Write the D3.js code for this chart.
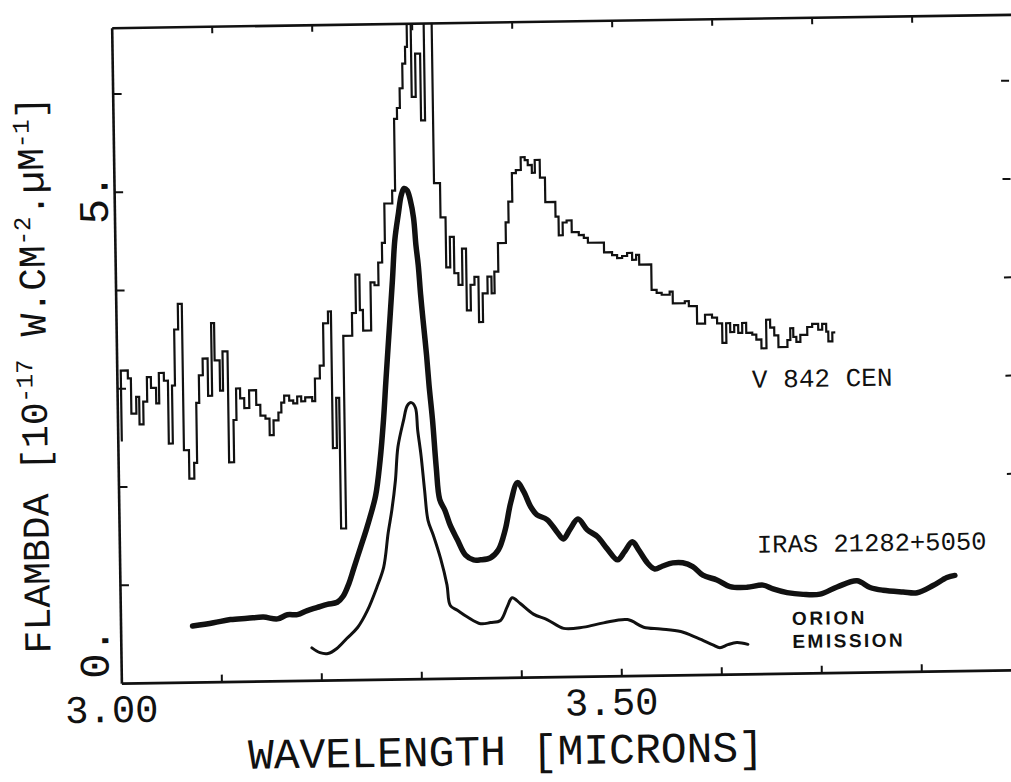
<!DOCTYPE html>
<html>
<head>
<meta charset="utf-8">
<script src="https://cdn.jsdelivr.net/npm/d3@7"></script>
<style>
  body { margin: 0; background: #fff; }
  svg { display: block; background: #fff; }
  .mono { font-family: "Courier New", "Liberation Mono", monospace; fill: #111; }
  .axis path, .axis line { stroke: #111; }
  .axis path.domain { stroke-width: 2.6; }
  .axis .tick line { stroke-width: 2; }
</style>
</head>
<body>
<svg width="1011" height="782"></svg>
<script>
// V 842 CEN (histogram / step spectrum)
var v842Wave = [3.003,3.004,3.011,3.014,3.019,3.022,3.026,3.030,3.034,3.039,
  3.042,3.047,3.051,3.055,3.058,3.062,3.066,3.071,3.076,3.079,
  3.082,3.086,3.091,3.095,3.098,3.103,3.106,3.111,3.116,3.119,
  3.123,3.127,3.132,3.139,3.143,3.148,3.152,3.156,3.161,3.164,
  3.167,3.172,3.176,3.180,3.184,3.188,3.195,3.198,3.203,3.207,
  3.212,3.215,3.219,3.222,3.227,3.236,3.240,3.244,3.247,3.255,
  3.259,3.263,3.267,3.270,3.278,3.281,3.284,3.287,3.290,3.293,
  3.295,3.299,3.303,3.308,3.312,3.320,3.326,3.331,3.335,3.339,
  3.343,3.347,3.351,3.355,3.359,3.363,3.367,3.372,3.376,3.379,
  3.383,3.391,3.394,3.398,3.402,3.407,3.411,3.414,3.418,3.421,
  3.426,3.431,3.441,3.444,3.448,3.452,3.457,3.464,3.469,3.473,
  3.489,3.497,3.502,3.507,3.512,3.517,3.521,3.524,3.536,3.541,
  3.546,3.554,3.557,3.569,3.573,3.581,3.589,3.596,3.601,3.606,
  3.610,3.614,3.618,3.622,3.626,3.630,3.636,3.640,3.645,3.650,
  3.654,3.658,3.662,3.671,3.674,3.677,3.680,3.684,3.691,3.696,
  3.702,3.706,3.710,3.712,3.716,3.719];
var v842Flux = [2.47,3.18,3.10,2.74,2.91,2.63,2.86,3.11,3.00,2.84,
  3.15,3.07,2.43,3.02,3.59,3.85,2.36,2.07,2.23,2.84,
  3.12,3.29,2.91,3.65,3.27,2.96,3.36,2.23,2.66,2.98,
  2.88,2.78,2.96,2.81,2.70,2.67,2.50,2.65,2.73,2.83,
  2.90,2.85,2.82,2.89,2.84,2.88,2.84,3.07,3.20,3.63,
  3.75,2.36,2.87,1.54,3.50,3.73,4.12,3.76,3.55,4.04,
  4.01,4.24,4.44,4.84,4.97,5.70,5.81,6.01,6.26,6.43,
  6.90,5.92,6.36,5.68,6.90,5.04,4.69,4.18,4.49,4.12,
  4.00,4.37,3.74,4.00,4.08,3.62,3.91,4.08,3.91,4.13,
  4.42,4.63,4.84,5.13,5.16,5.29,5.26,5.21,5.13,5.26,
  5.08,4.83,4.68,4.49,4.62,4.64,4.52,4.49,4.46,4.41,
  4.31,4.28,4.25,4.27,4.30,4.23,4.28,4.18,3.92,3.89,
  3.87,3.90,3.78,3.80,3.75,3.57,3.66,3.63,3.57,3.37,
  3.57,3.48,3.55,3.47,3.57,3.47,3.45,3.40,3.31,3.60,
  3.52,3.44,3.32,3.39,3.51,3.42,3.37,3.44,3.52,3.55,
  3.49,3.55,3.47,3.37,3.46,3.46];

// IRAS 21282+5050
var irasWave = [3.072,3.093,3.110,3.127,3.143,3.157,3.167,3.177,3.187,3.197,
  3.207,3.217,3.223,3.229,3.234,3.241,3.247,3.251,3.257,3.262,
  3.266,3.269,3.273,3.277,3.280,3.284,3.287,3.290,3.293,3.296,
  3.299,3.301,3.303,3.305,3.307,3.310,3.312,3.315,3.318,3.321,
  3.326,3.331,3.338,3.346,3.354,3.361,3.371,3.379,3.386,3.392,
  3.399,3.405,3.412,3.418,3.428,3.438,3.444,3.451,3.459,3.468,
  3.478,3.488,3.498,3.505,3.513,3.519,3.528,3.535,3.543,3.553,
  3.563,3.573,3.583,3.597,3.610,3.627,3.643,3.653,3.667,3.683,
  3.700,3.717,3.737,3.750,3.763,3.783,3.797,3.813,3.827,3.835];
var irasFlux = [0.57,0.60,0.63,0.64,0.65,0.63,0.67,0.67,0.71,0.74,
  0.77,0.79,0.85,0.98,1.13,1.34,1.52,1.65,1.87,2.23,
  2.64,3.04,3.55,4.06,4.47,4.74,4.92,4.99,4.97,4.87,
  4.69,4.41,4.21,3.90,3.65,3.29,2.99,2.63,2.15,1.82,
  1.71,1.56,1.41,1.25,1.20,1.20,1.22,1.30,1.50,1.78,
  1.98,1.89,1.73,1.65,1.60,1.47,1.40,1.50,1.60,1.49,
  1.42,1.29,1.18,1.26,1.36,1.28,1.14,1.08,1.11,1.14,
  1.14,1.10,1.01,0.96,0.89,0.88,0.90,0.86,0.82,0.80,
  0.80,0.87,0.93,0.86,0.83,0.81,0.80,0.87,0.95,0.97];

// Orion emission
var orionWave = [3.191,3.199,3.207,3.216,3.226,3.237,3.247,3.257,3.264,3.269,
  3.273,3.277,3.280,3.286,3.290,3.294,3.298,3.300,3.303,3.306,
  3.309,3.314,3.321,3.327,3.330,3.337,3.347,3.360,3.370,3.380,
  3.387,3.392,3.400,3.413,3.427,3.443,3.463,3.483,3.507,3.523,
  3.540,3.560,3.577,3.592,3.599,3.607,3.616,3.627];
var orionFlux = [0.33,0.28,0.27,0.32,0.42,0.53,0.70,0.94,1.14,1.49,
  1.72,2.02,2.36,2.63,2.78,2.81,2.76,2.53,2.27,1.92,
  1.61,1.46,1.22,0.95,0.74,0.69,0.62,0.55,0.56,0.58,
  0.72,0.81,0.75,0.64,0.58,0.49,0.50,0.54,0.57,0.49,
  0.47,0.44,0.37,0.30,0.27,0.30,0.32,0.30];

var xTicks = [3.1, 3.2, 3.3, 3.4, 3.5, 3.6, 3.7, 3.8];
var yTicks = [1, 2, 3, 4, 5, 6];
var rightTicks = [2, 3, 4, 5, 6];
var xLabelValues = [3.0, 3.5];
var xLabelText = ["3.00", "3.50"];
var yLabelValues = [0, 5];
var yLabelText = ["0.", "5."];

[[v842Wave, v842Flux], [irasWave, irasFlux], [orionWave, orionFlux]].forEach(function(p, i) {
  if (p[0].length !== p[1].length) throw new Error("series " + i + " length " + p[0].length + " vs " + p[1].length);
});

var svg = d3.select("svg");
// the scanned figure is slightly rotated
var chart = svg.append("g").attr("transform", "rotate(-0.85,565,350)");

var x = d3.scaleLinear().domain([3.0, 3.9]).range([116.5, 1016.5]);
var y = d3.scaleLinear().domain([0, 6.67]).range([676.5, 21]);

chart.append("clipPath").attr("id", "plotclip")
  .append("rect")
    .attr("x", x(3.0)).attr("y", y(6.67))
    .attr("width", x(3.9) - x(3.0)).attr("height", y(0) - y(6.67));

// frame and ticks
chart.append("g").attr("class", "axis")
  .attr("transform", "translate(0," + y(0) + ")")
  .call(d3.axisBottom(x).tickValues(xTicks).tickSizeInner(-7).tickSizeOuter(0).tickFormat(""));
chart.append("g").attr("class", "axis")
  .attr("transform", "translate(0," + y(6.67) + ")")
  .call(d3.axisTop(x).tickValues(xTicks).tickSizeInner(-7).tickSizeOuter(0).tickFormat(""));
chart.append("g").attr("class", "axis")
  .attr("transform", "translate(" + x(3.0) + ",0)")
  .call(d3.axisLeft(y).tickValues(yTicks).tickSizeInner(-9).tickSizeOuter(0).tickFormat(""));
var right = chart.append("g").attr("class", "axis")
  .attr("transform", "translate(1013,0)")
  .call(d3.axisRight(y).tickValues(rightTicks).tickSizeInner(-8).tickSizeOuter(0).tickFormat(""));
right.select(".domain").remove();

// tick labels
chart.selectAll(".xlab")
  .data(xLabelValues)
  .enter().append("text")
    .attr("class", "mono xlab")
    .attr("x", function(d) { return x(d) - 10; })
    .attr("y", y(0) + 39)
    .attr("text-anchor", "middle")
    .attr("font-size", 39)
    .text(function(d, i) { return xLabelText[i]; });

var yLabShift = [-30, 7];
var yLabBase = [104, 110];
chart.selectAll(".ylab")
  .data(yLabelValues)
  .enter().append("text")
    .attr("class", "mono ylab")
    .attr("transform", function(d, i) {
      return "translate(" + yLabBase[i] + "," + (y(d) + yLabShift[i]) + ") rotate(-90)";
    })
    .attr("text-anchor", "middle")
    .attr("font-size", 42)
    .text(function(d, i) { return yLabelText[i]; });

// axis titles
chart.append("text")
  .attr("class", "mono")
  .attr("x", 500).attr("y", 764)
  .attr("text-anchor", "middle")
  .attr("font-size", 43)
  .text("WAVELENGTH [MICRONS]");

var yTitle = chart.append("text")
  .attr("class", "mono")
  .attr("transform", "translate(46,367) rotate(-90)")
  .attr("text-anchor", "middle")
  .attr("font-size", 38);
yTitle.append("tspan").text("FLAMBDA [10");
yTitle.append("tspan").attr("font-size", 24).attr("dy", -14).text("-17");
yTitle.append("tspan").attr("dy", 14).text(" W.CM");
yTitle.append("tspan").attr("font-size", 24).attr("dy", -14).text("-2");
yTitle.append("tspan").attr("dy", 14).text(".\u00B5M");
yTitle.append("tspan").attr("font-size", 24).attr("dy", -14).text("-1");
yTitle.append("tspan").attr("dy", 14).text("]");

// spectra
var plot = chart.append("g").attr("clip-path", "url(#plotclip)");

var stepLine = d3.line()
  .x(function(d) { return x(d[0]); })
  .y(function(d) { return y(d[1]); })
  .curve(d3.curveStepAfter);
var smoothLine = d3.line()
  .x(function(d) { return x(d[0]); })
  .y(function(d) { return y(d[1]); })
  .curve(d3.curveCatmullRom.alpha(0.5));

plot.append("path")
  .attr("d", stepLine(d3.zip(v842Wave, v842Flux)))
  .attr("fill", "none")
  .attr("stroke", "#111")
  .attr("stroke-width", 2.2);

plot.append("path")
  .attr("d", smoothLine(d3.zip(irasWave, irasFlux)))
  .attr("fill", "none")
  .attr("stroke", "#111")
  .attr("stroke-width", 5.5)
  .attr("stroke-linejoin", "round")
  .attr("stroke-linecap", "round");

plot.append("path")
  .attr("d", smoothLine(d3.zip(orionWave, orionFlux)))
  .attr("fill", "none")
  .attr("stroke", "#111")
  .attr("stroke-width", 3)
  .attr("stroke-linejoin", "round")
  .attr("stroke-linecap", "round");

// series labels
chart.append("text")
  .attr("class", "mono")
  .attr("x", x(3.635)).attr("y", y(2.91))
  .attr("font-size", 26)
  .text("V 842 CEN");
chart.append("text")
  .attr("class", "mono")
  .attr("x", x(3.6375)).attr("y", y(1.23))
  .attr("font-size", 25.5)
  .text("IRAS 21282+5050");

var orionLab = chart.append("text")
  .attr("font-family", "'Liberation Sans', Arial, sans-serif")
  .attr("font-weight", "bold")
  .attr("font-size", 19)
  .attr("letter-spacing", 2.5)
  .attr("fill", "#111");
orionLab.append("tspan").attr("x", x(3.6715)).attr("y", y(0.49)).text("ORION");
orionLab.append("tspan").attr("x", x(3.6715)).attr("y", y(0.255)).text("EMISSION");
</script>
</body>
</html>
